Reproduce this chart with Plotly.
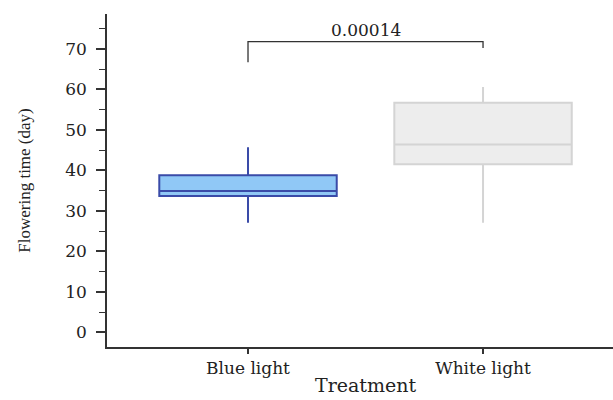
import plotly.graph_objects as go

categories = ["Blue light", "White light"]
q1 = [33.7, 41.5]
median = [34.9, 46.4]
q3 = [38.8, 56.7]
lower = [27.1, 27.1]
upper = [45.7, 60.6]
fill_colors = ["#90C8F6", "#EDEDED"]
line_colors = ["#3A4BA8", "#D4D4D4"]

p_label = "0.00014"
bracket_top = 71.8
bracket_left_end = 66.7
bracket_right_end = 70.2

y_ticks = [0, 10, 20, 30, 40, 50, 60, 70]
x_title = "Treatment"
y_title = "Flowering time (day)"

fig = go.Figure()
for i, c in enumerate(categories):
    fig.add_trace(go.Box(
        x=[c], q1=[q1[i]], median=[median[i]], q3=[q3[i]],
        lowerfence=[lower[i]], upperfence=[upper[i]],
        fillcolor=fill_colors[i], line=dict(color=line_colors[i], width=2),
        whiskerwidth=0, width=0.755, showlegend=False, boxpoints=False,
    ))

fig.add_trace(go.Scatter(
    x=[categories[0], categories[0], categories[1], categories[1]],
    y=[bracket_left_end, bracket_top, bracket_top, bracket_right_end],
    mode="lines", line=dict(color="#333333", width=1.3), showlegend=False,
    hoverinfo="skip",
))
fig.add_annotation(x=0.5, y=bracket_top, xref="x", yref="y", text=p_label,
                   showarrow=False, yanchor="bottom", yshift=0,
                   font=dict(family="DejaVu Serif", size=17, color="#222222"))
fig.add_annotation(x=0.5, y=0, xref="x", yref="paper", text=x_title,
                   showarrow=False, yanchor="top", yshift=-26, borderpad=0,
                   font=dict(family="DejaVu Serif", size=19, color="#222222"))

fig.update_layout(
    width=613, height=400,
    margin=dict(l=107, r=0, t=14, b=53),
    plot_bgcolor="white", paper_bgcolor="white",
    font=dict(family="DejaVu Serif", color="#222222"),
)
fig.update_xaxes(
    range=[-0.6, 1.553], showline=True, linecolor="#333333", linewidth=1.5,
    ticks="outside", ticklen=5, tickcolor="#333333", tickwidth=1.5,
    tickfont=dict(family="DejaVu Serif", size=17, color="#222222"),
    showgrid=False, zeroline=False, automargin=False,
)
fig.update_yaxes(
    range=[-3.6, 78.6], showline=True, linecolor="#333333", linewidth=1.5,
    tickvals=y_ticks, ticks="outside", ticklen=9, tickcolor="#333333", tickwidth=1.5,
    ticklabelstandoff=6,
    minor=dict(dtick=5, ticks="outside", ticklen=6, tickcolor="#333333", tickwidth=1.2, tick0=0),
    tickfont=dict(family="DejaVu Serif", size=17, color="#222222"),
    title=dict(text=y_title, font=dict(family="Liberation Serif", size=17, color="#222222"), standoff=30),
    showgrid=False, zeroline=False, automargin=False,
)

fig.write_html("out.html")
